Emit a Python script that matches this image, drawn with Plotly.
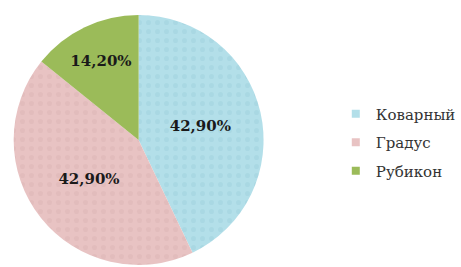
import plotly.graph_objects as go

categories = ["Коварный", "Градус", "Рубикон"]
values = [42.9, 42.9, 14.2]
labels_text = ["42,90%", "42,90%", "14,20%"]
colors = ["#b3dfe9", "#e8c3c3", "#9bbb59"]
texture_colors = ["#9fd2de", "#dcb6b6", "#9bbb59"]

SERIF = "DejaVu Serif"

fig = go.Figure()
fig.add_trace(go.Pie(
    labels=categories, values=values, text=labels_text,
    textinfo="text", textposition="inside", insidetextorientation="horizontal",
    sort=False, direction="clockwise", rotation=0,
    marker=dict(colors=colors, line=dict(width=0),
                pattern=dict(shape=[".", ".", ""], fgcolor=texture_colors,
                             bgcolor=colors, size=9, solidity=0.25, fillmode="overlay")),
    textfont=dict(family=SERIF, size=15, color="#1a1a1a", weight="bold"),
    domain=dict(x=[14/461, 270/461], y=[0, 1]),
    showlegend=False, hoverinfo="label+text",
))
for i, (name, c) in enumerate(zip(categories, colors)):
    fig.add_trace(go.Scatter(
        x=[None], y=[None], mode="markers", name=name,
        marker=dict(symbol="square", size=8, color=c),
        legendgroup=f"g{i}", showlegend=True,
    ))

fig.update_layout(
    width=461, height=267,
    margin=dict(l=0, r=0, t=13, b=0),
    paper_bgcolor="white", plot_bgcolor="white",
    font=dict(family=SERIF),
    xaxis=dict(visible=False), yaxis=dict(visible=False),
    legend=dict(x=344/461, y=0.49, xanchor="left", yanchor="middle",
                font=dict(family=SERIF, size=15, color="#333333"),
                tracegroupgap=6, itemwidth=30),
)
fig.write_html("out.html", config={"displayModeBar": False},
               post_script="document.body.style.margin='0';document.body.style.padding='0';")
